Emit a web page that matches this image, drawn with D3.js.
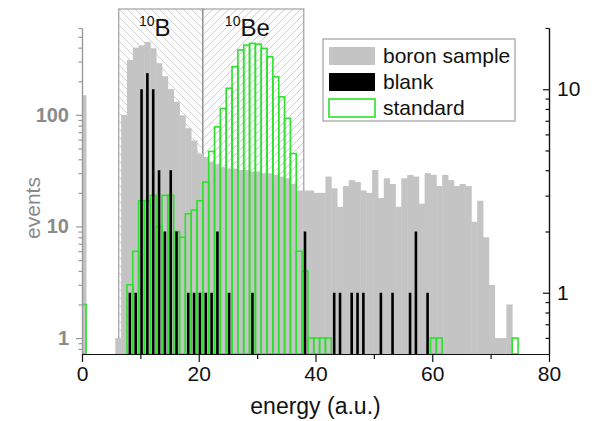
<!DOCTYPE html>
<html>
<head>
<meta charset="utf-8">
<script src="https://cdn.jsdelivr.net/npm/d3@7"></script>
<style>
  body { margin: 0; background: #fff; }
  svg { display: block; font-family: 'Liberation Sans', Arial, sans-serif; }
</style>
</head>
<body>
<div id="chart"></div>
<script>
// counts per 1-unit energy bin, bin i covers [i - 0.3, i + 0.7]
const boronCounts = [
  150, 0, 0, 0, 0, 0, 1, 100, 310, 400,
  420, 450, 395, 290, 222, 170, 131, 99, 76, 59,
  45, 42, 38, 36, 34, 33, 33, 32, 32, 31,
  31, 30, 30, 29, 28, 27, 24, 21, 21, 21,
  20, 20, 28, 22, 15, 23, 26, 25, 21, 20,
  32, 18, 27, 24, 15, 27, 29, 28, 16, 30,
  29, 23, 29, 26, 23, 24, 23, 11, 17, 8,
  3, 1, 1, 2, 0
];
const standardCounts = [
  2, 0, 0, 0, 0, 0, 0, 0, 3, 6,
  17, 17, 19, 10, 19, 19, 9, 8, 13, 14,
  17, 25, 47, 78, 114, 173, 270, 381, 422, 437,
  430, 394, 331, 219, 145, 93, 45, 6, 4, 1,
  1, 1, 1, 0, 0, 0, 0, 0, 0, 0,
  0, 0, 0, 0, 0, 0, 0, 0, 0, 0,
  1, 1, 0, 0, 0, 0, 0, 0, 0, 0,
  0, 0, 0, 0, 1
];
// blank is plotted against the right axis
const blankBins = [8, 9, 10, 11, 12, 13, 14, 15, 16, 18, 19, 20, 21, 22, 23, 25, 29, 38, 43, 44, 46, 47, 48, 51, 53, 56, 57, 59];
const blankCounts = [1, 1, 10, 12, 10, 4, 2, 4, 2, 1, 1, 1, 1, 1, 2, 1, 1, 2, 1, 1, 1, 1, 1, 1, 1, 1, 2, 1];

const regionIsotopes = ['B', 'Be'];
const regionFrom = [6.3, 20.7];
const regionTo = [20.7, 38.0];

const xTicks = [0, 20, 40, 60, 80];
const xMinorTicks = [10, 30, 50, 70];
const leftTicks = [1, 10, 100];
const rightTicks = [1, 10];
const legendLabels = ['boron sample', 'blank', 'standard'];

const binStart = -0.3;

const config = {
  width: 598,
  height: 421,
  margin: { top: 28, right: 49, bottom: 67, left: 82 },
  boxTop: 9,
  gray: '#c4c4c4',
  green: '#2ee02e',
  axisGray: '#999999',
  textGray: '#8a8a8a'
};

const width = config.width - config.margin.left - config.margin.right;
const height = config.height - config.margin.top - config.margin.bottom;

const svg = d3.select('#chart')
  .append('svg')
  .attr('width', config.width)
  .attr('height', config.height);

const defs = svg.append('defs');

// hatch patterns for the two isotope windows
const hatch = [
  { id: 'hatch-back', d: 'M-1,-1 L9,9 M-1,7 L1,9 M7,-1 L9,1' },
  { id: 'hatch-fwd', d: 'M-1,9 L9,-1 M-1,1 L1,-1 M7,9 L9,7' }
];
hatch.forEach(h => {
  defs.append('pattern')
    .attr('id', h.id)
    .attr('patternUnits', 'userSpaceOnUse')
    .attr('width', 8)
    .attr('height', 8)
    .append('path')
    .attr('d', h.d)
    .attr('stroke', '#bcbcbc')
    .attr('stroke-width', 0.7);
});

defs.append('clipPath')
  .attr('id', 'plot-clip')
  .append('rect')
  .attr('width', width)
  .attr('height', height + 1);

const chart = svg.append('g')
  .attr('transform', `translate(${config.margin.left},${config.margin.top})`);

const x = d3.scaleLinear().domain([0, 80]).range([0, width]);
const yLeft = d3.scaleLog().domain([0.72, 600]).range([height, 0]);
const yRight = d3.scaleLog().domain([0.5, 20]).range([height, 0]);

// isotope windows
const boxTop = config.boxTop - config.margin.top;
const regions = regionIsotopes.map((name, i) => ({ name, from: regionFrom[i], to: regionTo[i] }));

chart.selectAll('.region')
  .data(regions)
  .join('rect')
  .attr('class', 'region')
  .attr('x', d => x(d.from))
  .attr('y', boxTop)
  .attr('width', d => x(d.to) - x(d.from))
  .attr('height', height - boxTop)
  .attr('fill', (d, i) => `url(#${hatch[i].id})`)
  .attr('stroke', '#8c8c8c')
  .attr('stroke-width', 1);

const regionLabel = chart.selectAll('.region-label')
  .data(regions)
  .join('text')
  .attr('class', 'region-label')
  .attr('x', d => (x(d.from) + x(d.to)) / 2 - 6)
  .attr('y', boxTop + 27)
  .attr('text-anchor', 'middle')
  .attr('fill', '#111');
regionLabel.append('tspan')
  .attr('font-size', 14)
  .attr('dy', -10)
  .text('10');
regionLabel.append('tspan')
  .attr('font-size', 24)
  .attr('dy', 10)
  .text(d => d.name);

const plot = chart.append('g').attr('clip-path', 'url(#plot-clip)');

const bins = boronCounts.map((b, i) => ({
  x0: i + binStart,
  x1: i + 1 + binStart,
  boron: b,
  standard: standardCounts[i]
}));

// boron sample
plot.selectAll('.boron')
  .data(bins.filter(d => d.boron > 0))
  .join('rect')
  .attr('class', 'boron')
  .attr('x', d => x(d.x0))
  .attr('y', d => yLeft(d.boron))
  .attr('width', d => x(d.x1) - x(d.x0) + 0.4)
  .attr('height', d => height - yLeft(d.boron))
  .attr('fill', config.gray);

// standard, outlined bins
plot.selectAll('.standard')
  .data(bins.filter(d => d.standard > 0))
  .join('rect')
  .attr('class', 'standard')
  .attr('x', d => x(d.x0))
  .attr('y', d => yLeft(d.standard))
  .attr('width', d => x(d.x1) - x(d.x0))
  .attr('height', d => height - yLeft(d.standard))
  .attr('fill', 'none')
  .attr('stroke', config.green)
  .attr('stroke-width', 1.6);

// blank, thin black bars on the right scale
const blank = blankBins.map((b, i) => ({ center: b + binStart + 0.5, count: blankCounts[i] }));
plot.selectAll('.blank')
  .data(blank)
  .join('rect')
  .attr('class', 'blank')
  .attr('x', d => x(d.center) - 1.3)
  .attr('y', d => yRight(d.count))
  .attr('width', 2.6)
  .attr('height', d => height - yRight(d.count))
  .attr('fill', '#000');

// axes
const leftMinor = yLeft.ticks().filter(t => !leftTicks.includes(t));
const rightMinor = yRight.ticks().filter(t => !rightTicks.includes(t) && t > 0.5);

const leftAxisG = chart.append('g').attr('class', 'axis left');
leftAxisG.call(d3.axisLeft(yLeft).tickValues(leftMinor).tickSize(3.5).tickSizeOuter(0).tickFormat(''));
leftAxisG.append('g').call(d3.axisLeft(yLeft).tickValues(leftTicks).tickSize(6).tickSizeOuter(0).tickPadding(7).tickFormat(d3.format('d')));
leftAxisG.selectAll('path, line').attr('stroke', config.axisGray).attr('stroke-width', 1.2);
leftAxisG.selectAll('text')
  .attr('fill', config.textGray)
  .attr('font-size', 20)
  .attr('font-weight', 'bold')
  .attr('font-family', "'Liberation Sans', Arial, sans-serif");

const rightAxisG = chart.append('g')
  .attr('class', 'axis right')
  .attr('transform', `translate(${width},0)`);
rightAxisG.call(d3.axisRight(yRight).tickValues(rightMinor).tickSize(-3.5).tickSizeOuter(0).tickFormat(''));
rightAxisG.append('g').call(d3.axisRight(yRight).tickValues(rightTicks).tickSize(-6).tickSizeOuter(0).tickPadding(8).tickFormat(d3.format('d')));
rightAxisG.selectAll('path, line').attr('stroke', '#111').attr('stroke-width', 1.2);
rightAxisG.selectAll('text')
  .attr('fill', '#111')
  .attr('font-size', 21)
  .attr('font-family', "'Liberation Sans', Arial, sans-serif");

const bottomAxisG = chart.append('g')
  .attr('class', 'axis bottom')
  .attr('transform', `translate(0,${height})`);
bottomAxisG.call(d3.axisBottom(x).tickValues(xMinorTicks).tickSize(5).tickSizeOuter(0).tickFormat(''));
bottomAxisG.append('g').call(d3.axisBottom(x).tickValues(xTicks).tickSize(8).tickSizeOuter(0).tickPadding(4));
bottomAxisG.selectAll('path, line').attr('stroke', '#111').attr('stroke-width', 1.2);
bottomAxisG.selectAll('text')
  .attr('fill', '#111')
  .attr('font-size', 21)
  .attr('font-family', "'Liberation Sans', Arial, sans-serif");

chart.append('text')
  .attr('x', width / 2)
  .attr('y', height + 60)
  .attr('text-anchor', 'middle')
  .attr('font-size', 23)
  .attr('fill', '#111')
  .text('energy (a.u.)');

chart.append('text')
  .attr('transform', `translate(${40 - config.margin.left},${208 - config.margin.top}) rotate(-90)`)
  .attr('text-anchor', 'middle')
  .attr('font-size', 21)
  .attr('fill', config.textGray)
  .text('events');

// legend
const legend = svg.append('g')
  .attr('class', 'legend')
  .attr('transform', 'translate(323,39)');

legend.append('rect')
  .attr('width', 192)
  .attr('height', 82)
  .attr('fill', '#fff')
  .attr('stroke', '#8c8c8c')
  .attr('stroke-width', 1);

const legendStyles = [
  { fill: config.gray, stroke: 'none' },
  { fill: '#000', stroke: 'none' },
  { fill: '#fff', stroke: config.green }
];

const legendRow = legend.selectAll('.legend-row')
  .data(legendLabels)
  .join('g')
  .attr('class', 'legend-row')
  .attr('transform', (d, i) => `translate(6,${8 + i * 26})`);

legendRow.append('rect')
  .attr('width', 46)
  .attr('height', 18)
  .attr('fill', (d, i) => legendStyles[i].fill)
  .attr('stroke', (d, i) => legendStyles[i].stroke)
  .attr('stroke-width', 1.6);

legendRow.append('text')
  .attr('x', 54)
  .attr('y', 16)
  .attr('font-size', 21)
  .attr('fill', '#111')
  .text(d => d);
</script>
</body>
</html>
